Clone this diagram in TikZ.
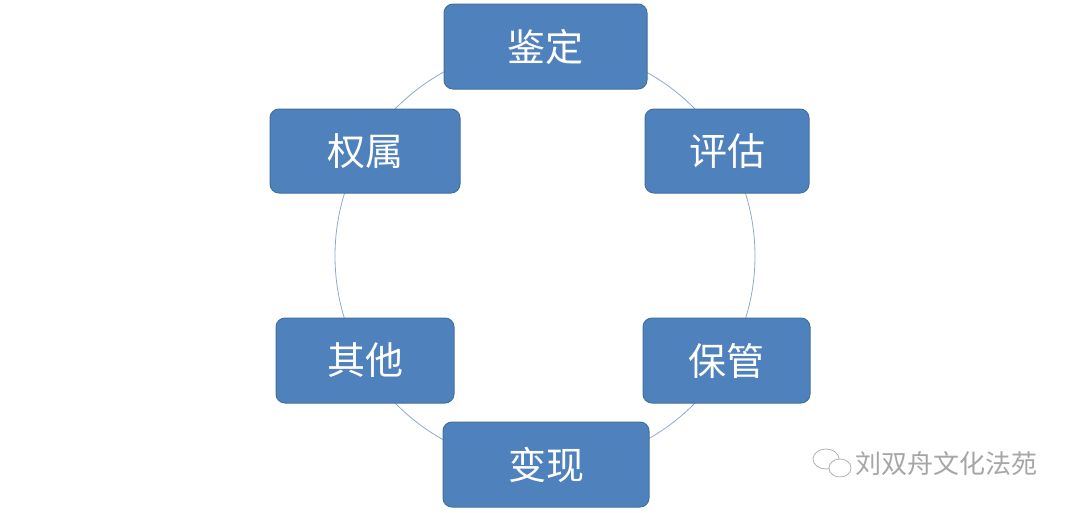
\documentclass[tikz,border=0pt]{standalone}
\usepackage{fontspec}
\newfontfamily\cjk{Noto Sans CJK SC}
\definecolor{boxfill}{HTML}{4F81BD}
\definecolor{boxline}{HTML}{41719C}
\definecolor{ring}{HTML}{8EA9D0}
\begin{document}
\begin{tikzpicture}[x=1pt,y=-1pt,
  box/.style={draw=boxline,line width=1pt,fill=boxfill,rounded corners=9pt,text=white,font=\cjk\fontsize{38}{38}\selectfont,inner sep=0pt}]
\useasboundingbox (0,0) rectangle (1080,512);
\fill[white] (0,0) rectangle (1080,512);
\draw[ring,line width=0.8pt] (545,256) circle[radius=210];
\node[box,minimum width=203,minimum height=85] (a) at (545.5,46.5) {鉴定};
\node[box,minimum width=164,minimum height=84] (b) at (727,151) {评估};
\node[box,minimum width=167,minimum height=85] (c) at (726.5,360.5) {保管};
\node[box,minimum width=206,minimum height=85] (d) at (546,464.5) {变现};
\node[box,minimum width=178,minimum height=85] (e) at (365,360.5) {其他};
\node[box,minimum width=190,minimum height=84] (f) at (365,151) {权属};
% watermark
\draw[gray!60,line width=0.8pt] (826,459) ellipse[x radius=13,y radius=10];
\draw[gray!60,line width=0.8pt,fill=white] (840,468) ellipse[x radius=11,y radius=9];
\node[text=gray!70,font=\cjk\fontsize{26}{26}\selectfont,anchor=west,inner sep=0pt] (w) at (855,464) {刘双舟文化法苑};
\end{tikzpicture}
\end{document}
